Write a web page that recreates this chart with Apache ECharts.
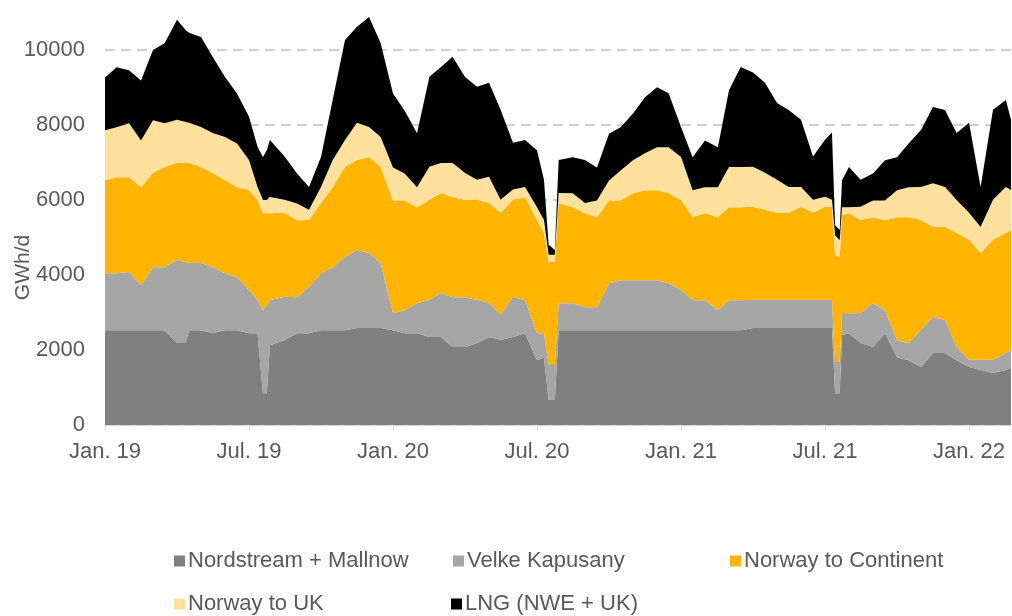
<!DOCTYPE html>
<html>
<head>
<meta charset="utf-8">
<title>Gas supply to Europe</title>
<script src="https://cdn.jsdelivr.net/npm/echarts@6/dist/echarts.min.js"></script>
<style>
html, body { margin: 0; padding: 0; background: #fff; }
#chart { width: 1012px; height: 616px; }
</style>
</head>
<body>
<div id="chart"></div>
<script>
// flows in GWh/d (roughly twice a month, plus the maintenance dips)
const dates = [
  '2019-01-01','2019-01-16','2019-02-01','2019-02-15','2019-03-01','2019-03-16','2019-04-01','2019-04-12',
  '2019-04-16','2019-05-01','2019-05-16','2019-06-01','2019-06-16','2019-07-01','2019-07-12','2019-07-19',
  '2019-07-24','2019-07-28','2019-08-16','2019-09-01','2019-09-16','2019-10-01','2019-10-16','2019-11-01',
  '2019-11-16','2019-12-01','2019-12-16','2020-01-01','2020-01-16','2020-02-01','2020-02-16','2020-03-01',
  '2020-03-16','2020-04-01','2020-04-16','2020-05-01','2020-05-16','2020-06-01','2020-06-16','2020-07-01',
  '2020-07-10','2020-07-16','2020-07-24','2020-07-29','2020-08-16','2020-09-01','2020-09-16','2020-10-01',
  '2020-10-16','2020-11-01','2020-11-16','2020-12-01','2020-12-16','2021-01-01','2021-01-16','2021-02-01',
  '2021-02-16','2021-03-01','2021-03-16','2021-04-01','2021-04-16','2021-05-01','2021-05-16','2021-06-01',
  '2021-06-16','2021-07-01','2021-07-10','2021-07-14','2021-07-20','2021-07-23','2021-08-01','2021-08-16',
  '2021-09-01','2021-09-16','2021-10-01','2021-10-16','2021-11-01','2021-11-16','2021-12-01','2021-12-16',
  '2022-01-01','2022-01-16','2022-02-01','2022-02-16','2022-02-22'
];
const nordstream = [
  2530,2530,2530,2530,2530,2530,2190,2190, 2530,2530,2450,2530,2530,2450,2450,850,
  850,2130,2270,2450,2450,2530,2530,2530, 2590,2590,2590,2530,2450,2450,2350,2350,
  2080,2080,2190,2350,2270,2350,2450,1730, 1810,670,670,2530,2530,2530,2530,2530,
  2530,2530,2530,2530,2530,2530,2530,2530, 2530,2530,2530,2590,2590,2590,2590,2590,
  2590,2590,2590,850,850,2400,2450,2190, 2080,2450,1810,1730,1550,1920,1920,1730,
  1550,1470,1390,1470,1520
];
const velke = [
  1520,1520,1550,1200,1680,1680,2210,2160, 1790,1790,1760,1520,1410,1150,880,2210,
  2350,1200,1150,960,1230,1520,1680,1950, 2080,2000,1730,450,610,800,990,1170,
  1330,1330,1150,910,670,1070,880,720, 640,930,930,720,720,610,610,1250,
  1330,1330,1330,1330,1250,1070,800,800, 530,800,800,750,750,750,750,750,
  750,750,750,830,830,590,530,800, 1170,610,450,450,990,960,880,350,
  190,270,350,450,480
];
const norwayContinent = [
  2480,2560,2530,2610,2510,2670,2590,2640, 2670,2560,2510,2480,2400,2670,2670,2590,
  2450,2320,2240,2050,1790,1870,2130,2400, 2400,2560,2560,3010,2930,2560,2670,2670,
  2670,2590,2670,2670,2720,2590,2750,3010, 2670,2750,2750,2670,2560,2510,2400,2210,
  2130,2320,2400,2400,2400,2400,2210,2320, 2480,2480,2480,2480,2400,2320,2320,2480,
  2320,2480,2480,2850,2800,2610,2670,2480, 2290,2400,3280,3360,2930,2400,2480,3040,
  3200,2850,3200,3200,3200
];
const norwayUK = [
  1330,1330,1440,1250,1410,1170,1150,1090, 1070,1070,1070,1150,1170,800,350,350,
  350,430,350,450,270,430,720,720, 990,800,800,880,720,530,880,800,
  910,720,530,690,350,270,270,350, 350,190,190,270,370,270,450,530,
  800,880,990,1150,1230,1150,720,690, 800,1070,1070,1070,990,880,690,530,
  350,270,190,530,450,210,160,350, 450,530,720,800,880,1170,1070,880,
  720,690,1070,1230,1070
];
const lng = [
  1410,1600,1410,1600,1870,2130,2670,2450, 2400,2400,2030,1600,1330,1150,1070,1150,
  1330,1520,1150,800,610,800,1600,2670, 2560,2930,2510,1970,1680,1440,2400,2560,
  2830,2560,2480,2510,2400,1250,1250,1520, 1070,270,130,880,960,1150,880,1250,
  1150,1250,1490,1600,1440,800,880,1250, 1070,2050,2670,2510,2400,2050,2050,1790,
  1150,1520,1790,270,270,720,1070,720, 720,1070,880,1170,1520,2030,2050,1790,
  2400,1070,2400,2320,1870
];
const seriesNames = ['Nordstream + Mallnow', 'Velke Kapusany', 'Norway to Continent', 'Norway to UK', 'LNG (NWE + UK)'];
const tickLabels = ['Jan. 19', 'Jul. 19', 'Jan. 20', 'Jul. 20', 'Jan. 21', 'Jul. 21', 'Jan. 22'];

const colors = ['#808080', '#a6a6a6', '#ffb400', '#ffe09c', '#000000'];
const font = "'Liberation Sans', Arial, sans-serif";

// months since Jan 2019, so Jan/Jul ticks land on multiples of 6
function monthPos(d) {
  const [y, m, day] = d.split('-').map(Number);
  const dim = new Date(y, m, 0).getDate();
  return (y - 2019) * 12 + (m - 1) + (day - 1) / dim;
}
const xs = dates.map(monthPos);
const values = [nordstream, velke, norwayContinent, norwayUK, lng];

// legend spots: [left, top]
const legendSpots = [[174, 550], [453, 550], [730, 550], [174, 593], [451, 593]];

const myChart = echarts.init(document.getElementById('chart'));
myChart.setOption({
  animation: false,
  color: colors,
  grid: { left: 105, right: 1, top: 50, bottom: 191, outerBoundsMode: 'none' },
  legend: seriesNames.map((name, i) => ({
    data: [name],
    left: legendSpots[i][0],
    top: legendSpots[i][1],
    padding: 0,
    icon: 'rect',
    itemWidth: 11,
    itemHeight: 11,
    selectedMode: false,
    textStyle: { fontSize: 22, color: '#595959', fontFamily: font, padding: [0, 0, 0, -2] }
  })),
  xAxis: {
    type: 'value',
    min: 0,
    max: xs[xs.length - 1],
    interval: 6,
    axisLine: { lineStyle: { color: '#d9d9d9', width: 1.5 } },
    axisTick: { length: 5, lineStyle: { color: '#d9d9d9' } },
    axisLabel: {
      margin: 16,
      fontSize: 22,
      color: '#595959',
      fontFamily: font,
      showMaxLabel: false,
      formatter: v => (v % 6 === 0 ? tickLabels[v / 6] : '')
    },
    splitLine: { show: false }
  },
  yAxis: {
    type: 'value',
    min: 0,
    max: 10000,
    interval: 2000,
    name: 'GWh/d',
    nameLocation: 'middle',
    nameGap: 71,
    nameMoveOverlap: false,
    nameTextStyle: { fontSize: 21, color: '#595959', fontFamily: font, padding: [0, 60, 0, 0] },
    axisLine: { show: false },
    axisTick: { show: false },
    axisLabel: { margin: 20, fontSize: 22, color: '#595959', fontFamily: font, formatter: v => String(v) },
    splitLine: { lineStyle: { type: [10, 6], color: '#bfbfbf', width: 1.5 } }
  },
  series: seriesNames.map((name, i) => ({
    name: name,
    type: 'line',
    stack: 'total',
    clip: false,
    showSymbol: false,
    symbol: 'none',
    lineStyle: { width: 0 },
    areaStyle: { color: colors[i], opacity: 1 },
    itemStyle: { color: colors[i] },
    // value first so the stack is taken on the flow, not on the date
    encode: { x: 1, y: 0 },
    data: xs.map((x, k) => [values[i][k], x])
  }))
});
</script>
</body>
</html>
